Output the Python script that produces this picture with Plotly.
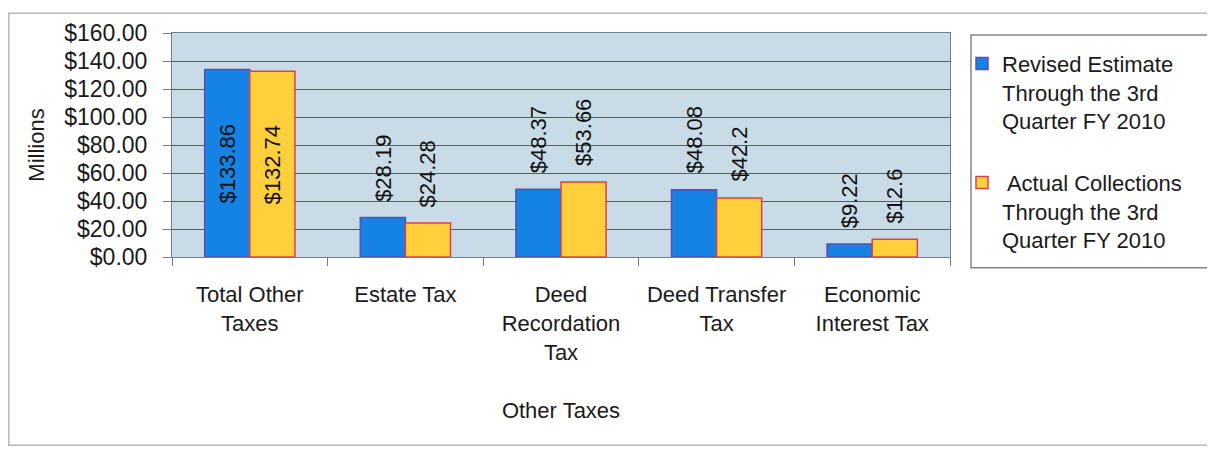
import plotly.graph_objects as go

categories = ["Total Other<br>Taxes", "Estate Tax", "Deed<br>Recordation<br>Tax",
              "Deed Transfer<br>Tax", "Economic<br>Interest Tax"]
revised = [133.86, 28.19, 48.37, 48.08, 9.22]
actual = [132.74, 24.28, 53.66, 42.2, 12.6]
series_names = ["Revised Estimate<br>Through the 3rd<br>Quarter FY 2010",
                " Actual Collections<br>Through the 3rd<br>Quarter FY 2010"]
label_revised = ["$133.86", "$28.19", "$48.37", "$48.08", "$9.22"]
label_actual = ["$132.74", "$24.28", "$53.66", "$42.2", "$12.6"]

FONT = "Liberation Sans, Arial, sans-serif"
# page has an 8px body margin; the figure is sized so the plot lands where the reference has it
W, H = 1207, 442
ML, MR, MT, MB = 164, 265, 21, 193
BARGAP = 0.42

fig = go.Figure()
fig.add_trace(go.Bar(
    x=categories, y=revised, name=series_names[0],
    marker=dict(color="#1583E4", line=dict(color="#5a4fb0", width=1.5)),
    legendgroup="a",
))
fig.add_trace(go.Bar(
    x=categories, y=actual, name=series_names[1],
    marker=dict(color="#FFCF3C", line=dict(color="#E0404A", width=1.5)),
    legendgroup="b",
))

# data labels
plot_w = W - ML - MR
plot_h = H - MT - MB
cat_px = plot_w / len(categories)
bar_px = cat_px * (1 - BARGAP) / 2
annotations = []
for k, (vals, labs) in enumerate([(revised, label_revised), (actual, label_actual)]):
    shift = (-0.5 if k == 0 else 0.5) * bar_px
    for j, (c, v, t) in enumerate(zip(categories, vals, labs)):
        if j == 0:
            annotations.append(dict(x=c, y=v / 2, text=t, showarrow=False, textangle=-90,
                                    xshift=shift, yanchor="middle", xanchor="center",
                                    font=dict(size=22, color="#111111", family=FONT)))
        else:
            annotations.append(dict(x=c, y=v, text=t, showarrow=False, textangle=-90,
                                    xshift=shift, yshift=14, yanchor="bottom", xanchor="center",
                                    font=dict(size=22, color="#111111", family=FONT)))

# helpers: figure pixel -> paper coords
px2x = lambda px: (px - ML) / plot_w
py2y = lambda py: (H - MB - py) / plot_h
shapes = [
    # outer chart frame
    dict(type="rect", xref="paper", yref="paper",
         x0=px2x(0.8), x1=px2x(W - 2), y0=py2y(H - 1.5), y1=py2y(0.8),
         line=dict(color="#b4b8b8", width=1.5), fillcolor="rgba(0,0,0,0)", layer="below"),
    # legend box
    dict(type="rect", xref="paper", yref="paper",
         x0=px2x(963), x1=px2x(1201), y0=py2y(260), y1=py2y(23),
         line=dict(color="#7f8585", width=1.5), fillcolor="white", layer="below"),
]

fig.update_layout(
    width=W, height=H,
    margin=dict(l=ML, r=MR, t=MT, b=MB, pad=0),
    paper_bgcolor="white", plot_bgcolor="#C8DBE6",
    barmode="group", bargap=BARGAP, bargroupgap=0,
    font=dict(family=FONT, size=22, color="#1a1a1a"),
    annotations=annotations, shapes=shapes,
    legend=dict(x=px2x(954), y=py2y(31), xanchor="left", yanchor="top",
                borderwidth=0, bgcolor="rgba(0,0,0,0)",
                font=dict(size=22, family=FONT, color="#1a1a1a"),
                valign="top", tracegroupgap=30, itemwidth=30),
    xaxis=dict(title=dict(text="Other Taxes", font=dict(size=22), standoff=39),
               tickson="boundaries", ticks="outside", ticklen=8, tickcolor="#777777",
               showline=True, linecolor="#6f7f8f", mirror=True, ticklabelstandoff=18,
               tickfont=dict(size=22)),
    yaxis=dict(title=dict(text="Millions", font=dict(size=22), standoff=13),
               range=[0, 160], dtick=20, tickprefix="$", tickformat=".2f",
               ticks="outside", ticklen=8, tickcolor="#777777", ticklabelstandoff=11,
               showgrid=True, gridcolor="#4f6060", gridwidth=1,
               showline=True, linecolor="#6f7f8f", mirror=True,
               tickfont=dict(size=23), zeroline=False),
)

fig.write_html("out.html")
